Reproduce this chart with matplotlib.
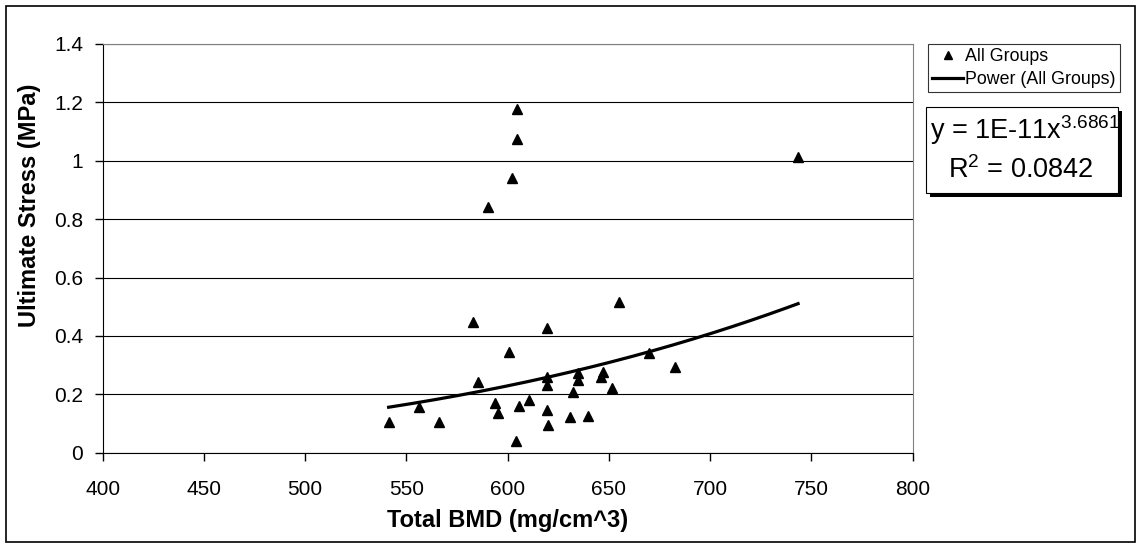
import numpy as np
import matplotlib
matplotlib.use("Agg")
import matplotlib.pyplot as plt
from matplotlib.lines import Line2D
from matplotlib.patches import Rectangle

plt.rcParams['font.family'] = ['Liberation Sans', 'DejaVu Sans']
plt.rcParams['mathtext.fontset'] = 'custom'
plt.rcParams['mathtext.rm'] = 'Liberation Sans'

# total BMD (mg/cm^3) and ultimate stress (MPa), all groups
bmd = [541.2, 556.0, 566.1, 583.0, 585.3, 590.2, 593.9, 595.1, 600.8, 602.0,
       604.0, 604.6, 604.6, 605.7, 610.7, 619.3, 619.3, 619.4, 619.6, 620.0,
       630.8, 632.1, 634.7, 634.7, 639.7, 645.9, 647.2, 651.5, 655.1, 669.9,
       682.6, 743.4]
stress = [0.106, 0.158, 0.105, 0.449, 0.243, 0.843, 0.169, 0.135, 0.344, 0.940,
          0.039, 1.074, 1.177, 0.160, 0.182, 0.258, 0.232, 0.426, 0.146, 0.095,
          0.121, 0.208, 0.272, 0.249, 0.127, 0.258, 0.277, 0.223, 0.517, 0.340,
          0.295, 1.014]

x_ticks = [400, 450, 500, 550, 600, 650, 700, 750, 800]
y_ticks = [0, 0.2, 0.4, 0.6, 0.8, 1.0, 1.2, 1.4]
y_labels = ['0', '0.2', '0.4', '0.6', '0.8', '1', '1.2', '1.4']

W, H = 1141, 548

# power trend line fitted on the data (Excel style, log-log least squares)
bx = np.array(bmd)
sy = np.array(stress)
b, log_a = np.polyfit(np.log(bx), np.log(sy), 1)
fit_x = np.linspace(bx.min(), bx.max(), 200)
fit_y = np.exp(log_a) * fit_x ** b

fig = plt.figure(figsize=(W / 100, H / 100), dpi=100)
ax = fig.add_axes([102.7 / W, (H - 452.7) / H, 810 / W, 408.8 / H])

ax.plot(bmd, stress, linestyle='none', marker='^', color='black', markersize=7)
ax.plot(fit_x, fit_y, color='black', linewidth=2.3)

ax.set_xlim(400, 800)
ax.set_ylim(0, 1.4)
ax.set_xticks(x_ticks)
ax.set_yticks(y_ticks)
ax.set_yticklabels(y_labels)
ax.tick_params(labelsize=15, direction='out', length=6, width=1, color='black')
ax.tick_params(axis='y', pad=8)
ax.tick_params(axis='x', pad=14)
ax.yaxis.grid(True, color='black', linewidth=0.8)
ax.set_axisbelow(True)
for side in ['left', 'bottom']:
    ax.spines[side].set_color('black')
for side in ['top', 'right']:
    ax.spines[side].set_color('#808080')

fig.text(30 / W, 1 - 205 / H, 'Ultimate Stress (MPa)', rotation=90,
         fontsize=17, fontweight='bold', ha='center', va='center')
fig.text(507.7 / W, 1 - 520 / H, 'Total BMD (mg/cm^3)',
         fontsize=17, fontweight='bold', ha='center', va='center')

# legend
handles = [Line2D([], [], linestyle='none', marker='^', color='black', markersize=6),
           Line2D([], [], color='black', linewidth=2.3)]
leg = fig.legend(handles, ['All Groups', 'Power (All Groups)'],
                 loc='upper left', bbox_to_anchor=(928 / W, 1 - 44 / H),
                 fontsize=12.8, frameon=True, fancybox=False, edgecolor='black',
                 borderpad=0.25, handlelength=1.7, handletextpad=0.15,
                 labelspacing=0.3, borderaxespad=0)
leg.get_frame().set_linewidth(0.8)

# equation box with shadow
bx0, by0, bw, bh = 926, 107.3, 192.3, 85.4
fig.patches.append(Rectangle(((bx0 + 4) / W, 1 - (by0 + bh + 4) / H), bw / W, bh / H,
                             transform=fig.transFigure, facecolor='black',
                             edgecolor='none', zorder=1))
fig.patches.append(Rectangle((bx0 / W, 1 - (by0 + bh) / H), bw / W, bh / H,
                             transform=fig.transFigure, facecolor='white',
                             edgecolor='black', linewidth=0.8, zorder=2))
fig.text(930 / W, 1 - 130 / H, r'y = 1E-11x$\mathregular{^{3.6861}}$',
         fontsize=19.5, ha='left', va='center', zorder=3)
fig.text(1021 / W, 1 - 170 / H, r'R$\mathregular{^2}$ = 0.0842',
         fontsize=19.5, ha='center', va='center', zorder=3)

# outer chart border
fig.patches.append(Rectangle((6 / W, 6 / H), (W - 12) / W, (H - 12) / H,
                             transform=fig.transFigure, facecolor='none',
                             edgecolor='black', linewidth=1.2, zorder=0))

fig.savefig('out.png', dpi=100)
